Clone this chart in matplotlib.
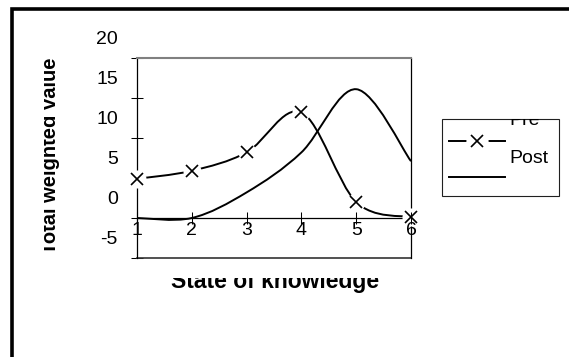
import numpy as np
import matplotlib.pyplot as plt
from matplotlib.path import Path
from matplotlib.patches import PathPatch, Rectangle
from matplotlib.lines import Line2D
from matplotlib.transforms import Bbox, ScaledTranslation, TransformedBbox

plt.rcParams['font.family'] = ['Liberation Sans', 'DejaVu Sans']

# data
states = [1, 2, 3, 4, 5, 6]
pre = [2.4, 3.4, 5.7, 10.7, -0.5, -2.4]
post = [-2.5, -2.5, 0.7, 5.7, 13.6, 4.6]
ytick_labels = [-5, 0, 5, 10, 15, 20]
series_names = ['Pre', 'Post']

W, H = 569, 357
fig = plt.figure(figsize=(W / 100, H / 100), dpi=100)


def fx(px):
    return px / W


def fy(py):
    return 1 - py / H


def smooth_path(xs, ys):
    # excel style smoothed line: catmull-rom drawn as cubic beziers
    pts = np.column_stack([xs, ys]).astype(float)
    ext = np.vstack([pts[0], pts, pts[-1]])
    verts = [pts[0]]
    codes = [Path.MOVETO]
    for i in range(len(pts) - 1):
        p0, p1, p2, p3 = ext[i], ext[i + 1], ext[i + 2], ext[i + 3]
        verts += [p1 + (p2 - p0) / 6, p2 - (p3 - p1) / 6, p2]
        codes += [Path.CURVE4] * 3
    return Path(verts, codes)


ax = fig.add_axes([fx(137), fy(258), fx(411) - fx(137), fy(58) - fy(258)])

ax.add_patch(PathPatch(smooth_path(states, pre), fill=False, ec='black', lw=1.4, zorder=2))
ax.add_patch(PathPatch(smooth_path(states, post), fill=False, ec='black', lw=1.4, zorder=2))
ax.plot(states, pre, ls='none', marker='o', ms=13, mfc='white', mec='none', zorder=2.6, clip_on=False)
ax.plot(states, pre, ls='none', marker='x', ms=8.6, mew=1.2, color='black', zorder=2.7, clip_on=False)

ax.set_xlim(1, 6)
ax.set_ylim(-7.5, 17.5)

ax.set_xticks(states)
ax.set_xticklabels([str(s) for s in states])
ax.set_yticks(np.array(ytick_labels) - 2.5)
ax.set_yticklabels([str(v) for v in ytick_labels])

ax.tick_params(axis='both', direction='inout', length=8.6, width=0.75, labelsize=14, colors='black')
ax.tick_params(axis='x', pad=-1.5)
ax.tick_params(axis='y', pad=9.4)

# the value labels sit 20px above their tick marks in the original
shift = ScaledTranslation(0, 20 / 100, fig.dpi_scale_trans)
for lab in ax.get_yticklabels():
    lab.set_transform(lab.get_transform() + shift)

ax.spines['bottom'].set_position(('data', -2.5))
ax.spines['bottom'].set_linewidth(0.9)
ax.spines['left'].set_linewidth(0.9)
ax.spines['right'].set_linewidth(0.9)
ax.spines['top'].set_color('#808080')
ax.spines['top'].set_linewidth(1.5)
ax.axhline(-7.5, color='#333333', lw=1.2, clip_on=False, zorder=2.5)
ax.xaxis.set_zorder(3)

# axis titles, clipped as in the original
ylab = fig.text(fx(56), fy(156), 'Total weighted value', rotation=90, ha='center',
                va='baseline', rotation_mode='anchor', fontsize=14.5, fontweight='bold')
ylab.set_clip_box(TransformedBbox(Bbox.from_extents(fx(44), 0, 1, 1), fig.transFigure))
ylab.set_clip_on(True)

xlab = fig.text(fx(275), fy(288), 'State of knowledge', ha='center', va='baseline',
                fontsize=16.5, fontweight='bold')
xlab.set_clip_box(TransformedBbox(Bbox.from_extents(0, 0, 1, fy(278)), fig.transFigure))
xlab.set_clip_on(True)

# legend
leg_box = Rectangle((fx(442), fy(196)), fx(559) - fx(442), fy(119) - fy(196),
                    transform=fig.transFigure, fill=False, ec='#202020', lw=0.8)
fig.add_artist(leg_box)
fig.add_artist(Line2D([fx(449), fx(505)], [fy(141)] * 2, color='black', lw=1.4,
                      transform=fig.transFigure))
fig.add_artist(Line2D([fx(477)], [fy(141)], ls='none', marker='o', ms=16, mfc='white',
                      mec='none', transform=fig.transFigure, zorder=3))
fig.add_artist(Line2D([fx(477)], [fy(141)], ls='none', marker='x', ms=8.6, mew=1.2,
                      color='black', transform=fig.transFigure, zorder=4))
fig.add_artist(Line2D([fx(449), fx(505)], [fy(177)] * 2, color='black', lw=1.4,
                      transform=fig.transFigure))
leg_clip = TransformedBbox(Bbox.from_extents(fx(442), fy(196), fx(559), fy(119)), fig.transFigure)
for name, base in zip(series_names, [125, 163]):
    t = fig.text(fx(509), fy(base), name, va='baseline', ha='left', fontsize=14)
    t.set_clip_box(leg_clip)
    t.set_clip_on(True)

# outer frame
fig.add_artist(Rectangle((fx(12), fy(H + 20)), fx(W + 20) - fx(12), fy(9) - fy(H + 20),
                         transform=fig.transFigure, fill=False, ec='black', lw=2.6))

fig.savefig('out.png', dpi=100)
